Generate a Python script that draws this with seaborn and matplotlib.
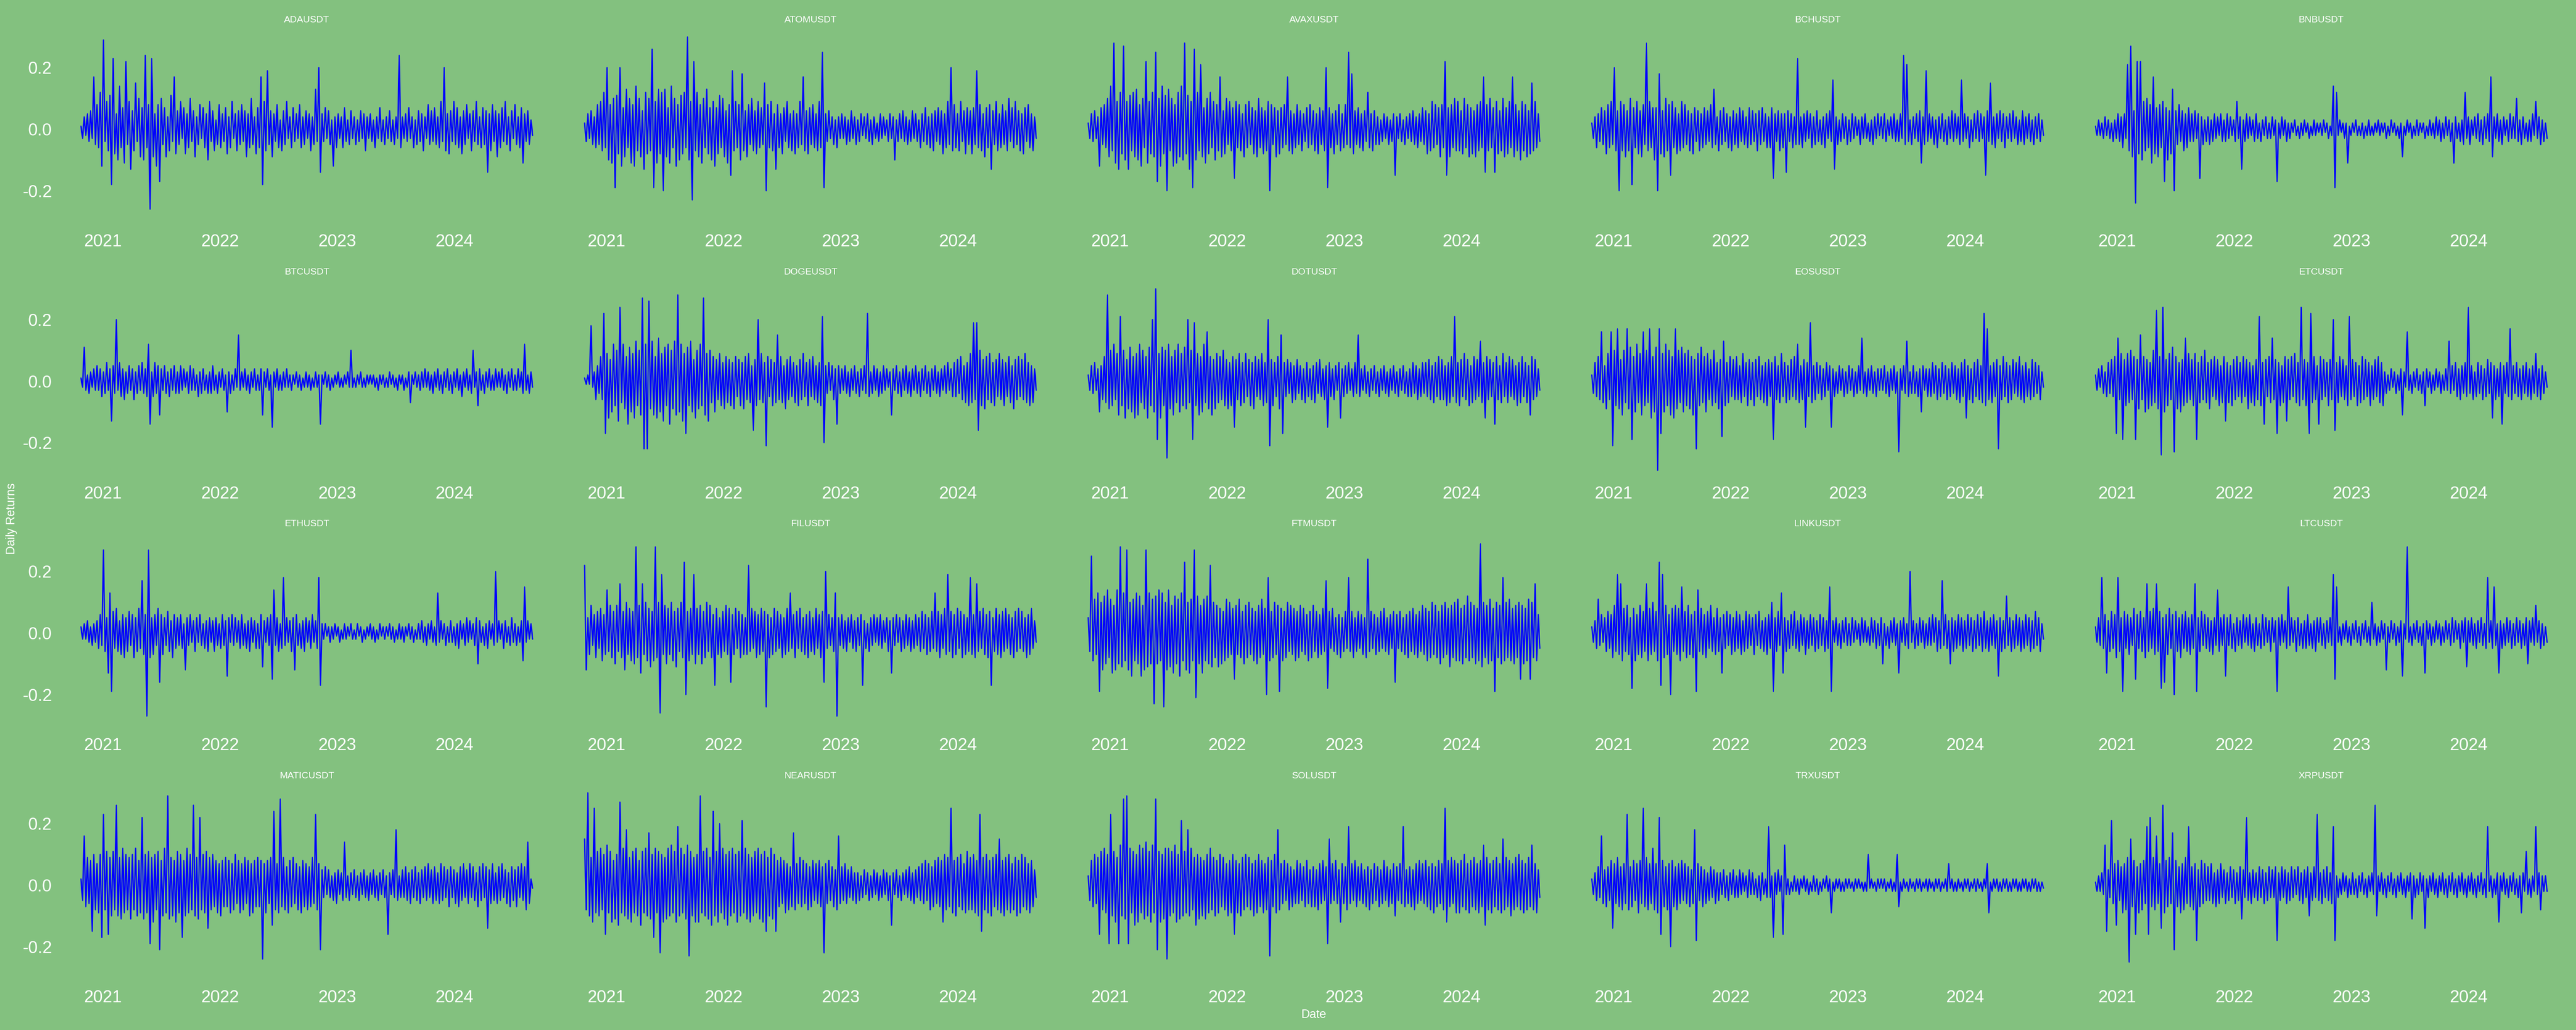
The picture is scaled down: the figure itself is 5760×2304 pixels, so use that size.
import numpy as np
import pandas as pd
import matplotlib
matplotlib.use("Agg")
import matplotlib.pyplot as plt
import matplotlib.dates as mdates
import seaborn as sns

# ---------------- data: daily returns (percent), read approx. every ~5 days ----------------
TICKERS = ["ADAUSDT", "ATOMUSDT", "AVAXUSDT", "BCHUSDT", "BNBUSDT",
           "BTCUSDT", "DOGEUSDT", "DOTUSDT", "EOSUSDT", "ETCUSDT",
           "ETHUSDT", "FILUSDT", "FTMUSDT", "LINKUSDT", "LTCUSDT",
           "MATICUSDT", "NEARUSDT", "SOLUSDT", "TRXUSDT", "XRPUSDT"]
START_DATE = "2020-10-25"
END_DATE = "2024-09-02"
Y_TICKS = [-0.2, 0.0, 0.2]
Y_TICK_LABELS = ["-0.2", "0.0", "0.2"]

ADAUSDT = [1, -3, 4, -2, 5, -4, 6, -3, 17, -5,
           8, -6, 12, -12, 29, -4, 9, -7, 11, -18,
           23, -8, 5, -10, 14, -6, 7, -11, 22, -5,
           9, -13, 6, -7, 15, -4, 10, -9, 7, -10,
           24, -6, 8, -26, 23, -9, 5, -12, 8, -17,
           10, -5, 7, -9, 4, -7, 11, -4, 17, -8,
           6, -5, 9, -3, 7, -8, 5, -6, 10, -4,
           6, -9, 4, -5, 8, -3, 7, -6, 5, -10,
           9, -4, 6, -7, 3, -5, 8, -6, 5, -4,
           7, -8, 4, -6, 9, -3, 5, -7, 6, -5,
           8, -4, 6, -9, 5, -6, 10, -5, 4, -8,
           7, -6, 17, -18, 9, -7, 19, -5, 6, -9,
           5, -4, 8, -6, 3, -7, 6, -5, 9, -3,
           4, -6, 7, -4, 5, -3, 8, -6, 4, -5,
           6, -3, 5, -7, 4, -5, 13, -4, 20, -14,
           5, -4, 7, -3, 6, -5, 3, -12, 4, -6,
           5, -3, 4, -6, 7, -4, 3, -5, 6, -3,
           4, -5, 3, -4, 6, -3, 5, -7, 4, -3,
           5, -4, 3, -6, 4, -3, 7, -4, 3, -5,
           4, -3, 6, -4, 3, -5, 4, -3, 24, -6,
           4, -3, 5, -4, 7, -3, 4, -6, 3, -5,
           6, -4, 5, -7, 4, -3, 8, -5, 6, -4,
           7, -5, 4, -6, 9, -4, 20, -7, 5, -8,
           6, -4, 9, -5, 7, -6, 4, -8, 6, -5,
           8, -3, 5, -7, 6, -4, 9, -5, 4, -6,
           7, -5, 6, -14, 5, -7, 8, -4, 6, -9,
           5, -6, 7, -4, 9, -5, 4, -7, 6, -3,
           8, -5, 4, -6, 7, -11, 5, -4, 6, -5,
           3, -2]
ATOMUSDT = [2, -4, 5, -3, 6, -5, 4, -6, 8, -5,
            9, -7, 12, -6, 20, -10, 8, -11, 10, -19,
            11, -8, 20, -12, 7, -9, 13, -6, 10, -11,
            8, -12, 14, -7, 10, -9, 6, -13, 12, -8,
            10, -7, 26, -19, 9, -11, 13, -8, 12, -20,
            13, -9, 7, -11, 14, -6, 10, -12, 8, -10,
            11, -8, 12, -6, 30, -10, 9, -23, 22, -7,
            12, -9, 8, -11, 10, -6, 13, -8, 7, -10,
            9, -12, 7, -8, 11, -6, 10, -9, 6, -11,
            8, -15, 19, -7, 9, -6, 8, -10, 18, -7,
            6, -9, 8, -5, 10, -7, 6, -8, 9, -6,
            7, -5, 15, -20, 8, -6, 9, -7, 5, -13,
            8, -6, 5, -8, 7, -4, 9, -6, 5, -7,
            6, -8, 5, -6, 9, -5, 17, -7, 6, -8,
            7, -5, 8, -6, 5, -7, 9, -6, 25, -19,
            5, -4, 6, -3, 4, -5, 3, -6, 4, -3,
            5, -3, 4, -5, 3, -4, 6, -3, 4, -5,
            3, -4, 5, -2, 4, -3, 5, -4, 3, -5,
            4, -3, 2, -4, 5, -3, 4, -2, 3, -4,
            5, -3, 4, -10, 3, -4, 5, -3, 6, -4,
            4, -5, 3, -4, 6, -3, 5, -4, 3, -6,
            5, -4, 7, -5, 4, -6, 5, -7, 6, -4,
            7, -5, 6, -8, 5, -6, 9, -5, 20, -7,
            8, -6, 5, -7, 9, -4, 6, -8, 7, -5,
            6, -8, 7, -5, 19, -6, 8, -7, 5, -9,
            7, -6, 8, -13, 6, -5, 9, -7, 5, -6,
            8, -5, 6, -7, 10, -4, 7, -6, 9, -5,
            6, -7, 5, -8, 7, -4, 8, -6, 5, -7,
            4, -3]
AVAXUSDT = [2, -3, 5, -4, 6, -3, 4, -12, 7, -5,
            8, -6, 10, -9, 14, -7, 28, -11, 9, -13,
            12, -8, 27, -10, 9, -13, 11, -7, 12, -9,
            13, -10, 8, -12, 10, -6, 22, -11, 9, -8,
            12, -9, 25, -17, 10, -12, 14, -8, 11, -20,
            13, -7, 10, -12, 8, -11, 12, -9, 14, -10,
            28, -8, 11, -13, 9, -19, 26, -10, 12, -7,
            21, -9, 7, -11, 10, -8, 12, -6, 9, -10,
            8, -7, 17, -9, 6, -8, 10, -5, 9, -7,
            7, -16, 9, -6, 8, -7, 5, -9, 8, -6,
            9, -5, 7, -8, 6, -9, 10, -6, 7, -8,
            6, -7, 9, -20, 8, -5, 7, -9, 6, -8,
            7, -6, 8, -5, 17, -7, 6, -8, 5, -6,
            8, -5, 6, -7, 5, -4, 7, -6, 8, -5,
            6, -7, 5, -8, 7, -5, 6, -7, 20, -19,
            7, -6, 5, -8, 6, -5, 8, -7, 5, -6,
            8, -5, 25, -6, 18, -8, 6, -5, 7, -6,
            5, -7, 6, -4, 12, -6, 5, -7, 6, -5,
            4, -5, 3, -4, 5, -3, 4, -5, 3, -4,
            5, -15, 4, -3, 5, -4, 3, -5, 4, -3,
            5, -4, 6, -5, 4, -6, 5, -4, 7, -5,
            6, -8, 5, -7, 9, -6, 8, -5, 7, -9,
            8, -6, 22, -15, 7, -9, 8, -6, 10, -7,
            9, -7, 6, -8, 10, -6, 8, -9, 7, -8,
            6, -9, 8, -7, 9, -6, 17, -14, 8, -7,
            10, -6, 7, -14, 9, -8, 6, -7, 10, -9,
            7, -8, 9, -6, 17, -9, 8, -7, 6, -10,
            9, -7, 8, -9, 6, -8, 15, -7, 9, -6,
            5, -4]
BCHUSDT = [2, -3, 4, -6, 5, -4, 7, -5, 6, -8,
           8, -6, 9, -5, 20, -7, 6, -20, 9, -7,
           8, -9, 6, -7, 10, -18, 7, -6, 9, -8,
           6, -9, 8, -5, 28, -7, 9, -6, 7, -10,
           7, -20, 18, -8, 6, -9, 10, -7, 8, -15,
           9, -6, 7, -8, 5, -7, 9, -6, 8, -5,
           6, -7, 5, -8, 7, -4, 6, -7, 5, -6,
           7, -5, 6, -4, 8, -6, 13, -5, 4, -7,
           6, -5, 7, -4, 5, -6, 4, -7, 6, -5,
           5, -6, 7, -4, 6, -5, 4, -6, 7, -5,
           6, -4, 5, -7, 6, -5, 7, -4, 5, -6,
           4, -6, 7, -16, 5, -4, 6, -7, 5, -6,
           5, -14, 6, -4, 5, -6, 4, -5, 23, -5,
           4, -6, 5, -4, 6, -3, 5, -6, 4, -5,
           6, -4, 3, -5, 4, -6, 5, -3, 6, -4,
           16, -13, 4, -5, 3, -4, 5, -3, 4, -5,
           3, -4, 5, -3, 4, -2, 3, -5, 4, -3,
           5, -3, 2, -4, 3, -5, 4, -3, 5, -2,
           4, -3, 5, -4, 3, -2, 4, -3, 5, -4,
           3, -4, 5, -3, 24, -5, 21, -4, 3, -5,
           4, -3, 5, -4, 6, -11, 4, -5, 19, -4,
           5, -3, 4, -5, 3, -6, 4, -3, 5, -4,
           3, -5, 4, -3, 6, -4, 5, -3, 4, -5,
           16, -4, 5, -3, 4, -6, 3, -4, 5, -3,
           6, -4, 5, -3, 4, -15, 6, -4, 15, -5,
           4, -6, 5, -3, 6, -4, 5, -6, 4, -3,
           5, -4, 6, -3, 4, -5, 3, -4, 6, -5,
           4, -3, 5, -4, 3, -5, 4, -3, 5, -4,
           3, -2]
BNBUSDT = [1, -2, 3, -2, 2, -3, 4, -2, 3, -3,
           2, -4, 3, -3, 5, -4, 4, -6, 5, -3,
           21, -7, 27, -9, 6, -24, 22, -8, 22, -10,
           9, -7, 10, -6, 8, -11, 17, -8, 7, -9,
           8, -6, 9, -17, 7, -10, 6, -8, 13, -20,
           6, -5, 8, -4, 6, -7, 5, -6, 7, -4,
           5, -4, 6, -3, 5, -16, 4, -5, 3, -4,
           4, -5, 3, -4, 5, -3, 4, -2, 5, -4,
           3, -4, 5, -3, 4, -2, 3, -4, 9, -3,
           4, -13, 3, -4, 5, -3, 4, -2, 3, -4,
           5, -3, 2, -4, 3, -2, 4, -3, 2, -3,
           4, -2, 3, -17, 2, -3, 4, -2, 3, -4,
           2, -3, 2, -1, 3, -2, 1, -3, 2, -2,
           3, -1, 2, -3, 1, -2, 3, -2, 2, -1,
           2, -2, 3, -1, 2, -3, 1, -2, 14, -19,
           12, -2, 3, -1, 2, -3, 2, -11, 1, -2,
           2, -1, 3, -2, 1, -2, 2, -3, 1, -2,
           3, -2, 1, -2, 2, -1, 3, -2, 2, -1,
           2, -3, 1, -2, 3, -1, 2, -2, 1, -3,
           2, -9, 1, -2, 3, -1, 2, -3, 1, -2,
           3, -2, 2, -1, 2, -3, 1, -2, 3, -2,
           2, -3, 4, -2, 3, -4, 2, -3, 4, -2,
           3, -4, 2, -11, 4, -3, 2, -4, 3, -5,
           12, -3, 4, -5, 3, -2, 4, -3, 5, -4,
           3, -5, 4, -3, 5, -4, 17, -9, 4, -3,
           5, -4, 3, -5, 4, -2, 3, -4, 5, -3,
           4, -3, 10, -4, 3, -5, 4, -3, 2, -4,
           3, -4, 5, -2, 9, -3, 4, -5, 3, -4,
           2, -3]
BTCUSDT = [1, -2, 11, -3, 2, -4, 3, -2, 4, -3,
           5, -3, 4, -5, 3, -4, 6, -3, 4, -13,
           5, -4, 20, -3, 6, -5, 4, -6, 3, -4,
           5, -3, 4, -6, 3, -4, 5, -3, 6, -4,
           4, -5, 12, -14, 3, -5, 6, -4, 5, -11,
           4, -3, 5, -4, 3, -5, 4, -3, 5, -4,
           3, -4, 5, -3, 4, -2, 3, -4, 5, -3,
           4, -3, 2, -5, 3, -4, 4, -3, 2, -4,
           3, -4, 5, -3, 2, -4, 3, -2, 4, -3,
           2, -10, 3, -4, 2, -3, 4, -2, 15, -3,
           3, -2, 4, -3, 2, -4, 3, -2, 4, -3,
           2, -3, 4, -11, 3, -2, 4, -3, 2, -15,
           3, -2, 4, -3, 2, -3, 3, -2, 4, -2,
           2, -3, 2, -1, 3, -2, 2, -3, 1, -2,
           3, -2, 2, -3, 1, -2, 3, -2, 2, -14,
           2, -1, 3, -2, 2, -3, 1, -2, 2, -1,
           3, -2, 1, -2, 2, -1, 3, -2, 10, -2,
           1, -2, 2, -1, 3, -2, 1, -2, 2, -1,
           2, -1, 2, -2, 1, -3, 2, -1, 2, -2,
           1, -2, 3, -1, 2, -2, 1, -3, 2, -1,
           2, -3, 1, -2, 3, -7, 2, -1, 3, -2,
           2, -3, 3, -2, 4, -2, 3, -3, 2, -4,
           3, -2, 4, -3, 2, -4, 3, -2, 4, -3,
           2, -4, 3, -2, 4, -3, 2, -5, 3, -2,
           4, -3, 2, -4, 10, -2, 3, -8, 4, -3,
           2, -4, 3, -2, 4, -3, 2, -3, 4, -2,
           3, -2, 4, -3, 2, -4, 3, -2, 4, -3,
           2, -3, 4, -2, 3, -4, 12, -3, 2, -4,
           3, -2]
DOGEUSDT = [1, -1, 2, -1, 18, -2, 3, -6, 5, -4,
            8, -6, 22, -17, 9, -12, 7, -10, 12, -8,
            10, -13, 24, -7, 12, -9, 8, -14, 11, -10,
            9, -12, 13, -8, 10, -11, 27, -22, 12, -22,
            26, -9, 13, -11, 8, -12, 14, -10, 9, -13,
            11, -8, 12, -14, 10, -9, 13, -11, 28, -10,
            12, -13, 9, -17, 11, -8, 13, -10, 7, -12,
            10, -9, 12, -8, 27, -11, 9, -13, 10, -7,
            8, -10, 7, -6, 9, -8, 6, -9, 8, -7,
            7, -8, 6, -9, 8, -5, 7, -8, 6, -9,
            8, -6, 9, -7, 5, -16, 7, -8, 20, -6,
            9, -7, 6, -21, 8, -5, 7, -8, 6, -7,
            15, -6, 8, -7, 5, -9, 7, -6, 8, -5,
            6, -7, 5, -8, 7, -6, 9, -5, 6, -8,
            7, -5, 8, -6, 5, -7, 6, -8, 21, -20,
            5, -4, 6, -3, 5, -6, 4, -14, 5, -4,
            4, -3, 5, -4, 3, -5, 4, -3, 5, -4,
            3, -5, 4, -3, 5, -4, 22, -5, 3, -4,
            5, -3, 4, -5, 3, -4, 5, -3, 4, -2,
            3, -11, 4, -3, 5, -4, 3, -5, 4, -3,
            5, -4, 3, -5, 4, -3, 5, -4, 3, -5,
            4, -3, 5, -4, 3, -5, 4, -3, 5, -4,
            3, -5, 4, -3, 5, -4, 6, -3, 4, -5,
            6, -5, 7, -4, 8, -6, 5, -7, 6, -8,
            9, -7, 19, -6, 19, -16, 10, -8, 7, -9,
            8, -6, 9, -7, 6, -8, 7, -5, 9, -6,
            7, -8, 6, -5, 8, -7, 5, -9, 7, -6,
            8, -5, 7, -6, 9, -7, 6, -8, 5, -7,
            4, -3]
DOTUSDT = [2, -3, 5, -4, 6, -3, 4, -10, 5, -6,
           8, -7, 28, -9, 10, -8, 12, -6, 9, -11,
           21, -8, 10, -12, 7, -9, 11, -10, 8, -12,
           9, -11, 12, -7, 10, -9, 8, -12, 11, -8,
           20, -10, 30, -19, 9, -12, 11, -8, 10, -25,
           12, -9, 8, -11, 10, -7, 12, -10, 9, -8,
           11, -9, 20, -7, 10, -19, 19, -8, 9, -11,
           8, -10, 12, -7, 16, -9, 8, -11, 7, -9,
           9, -7, 8, -6, 10, -8, 7, -9, 6, -8,
           8, -15, 7, -6, 9, -8, 6, -7, 9, -5,
           7, -8, 6, -9, 8, -5, 7, -6, 9, -8,
           6, -7, 20, -21, 7, -8, 6, -5, 8, -9,
           15, -17, 6, -5, 7, -4, 6, -7, 5, -6,
           7, -4, 5, -6, 4, -7, 6, -5, 4, -6,
           5, -7, 6, -4, 7, -5, 4, -6, 5, -15,
           6, -5, 4, -6, 5, -3, 6, -12, 4, -5,
           5, -4, 6, -3, 4, -5, 6, -4, 15, -5,
           4, -3, 5, -4, 3, -5, 4, -3, 5, -4,
           3, -5, 4, -3, 5, -4, 3, -5, 4, -3,
           5, -4, 3, -5, 4, -3, 5, -4, 3, -5,
           4, -5, 6, -4, 5, -6, 4, -5, 6, -4,
           6, -5, 7, -6, 5, -7, 6, -5, 8, -6,
           7, -6, 5, -8, 6, -7, 8, -5, 21, -7,
           6, -8, 7, -5, 9, -6, 7, -8, 5, -7,
           8, -6, 7, -5, 13, -7, 6, -12, 8, -6,
           7, -5, 6, -14, 8, -6, 5, -7, 9, -5,
           6, -7, 8, -5, 7, -6, 5, -8, 6, -7,
           8, -5, 6, -7, 5, -11, 8, -6, 7, -5,
           4, -3]
EOSUSDT = [2, -4, 6, -5, 8, -6, 16, -7, 5, -9,
           9, -6, 16, -21, 10, -8, 17, -9, 7, -11,
           10, -7, 17, -9, 11, -19, 8, -10, 12, -7,
           9, -11, 16, -8, 10, -7, 17, -12, 8, -10,
           11, -29, 17, -17, 9, -10, 12, -8, 10, -11,
           8, -12, 17, -9, 10, -7, 11, -10, 9, -8,
           10, -9, 8, -11, 7, -22, 9, -8, 11, -7,
           8, -10, 9, -6, 7, -8, 10, -7, 6, -9,
           7, -18, 13, -8, 6, -7, 8, -5, 7, -6,
           8, -6, 5, -7, 9, -5, 6, -8, 7, -6,
           6, -8, 7, -5, 8, -6, 5, -7, 6, -8,
           7, -5, 6, -19, 8, -6, 5, -7, 9, -5,
           6, -7, 5, -6, 7, -5, 8, -6, 12, -7,
           5, -6, 7, -15, 6, -5, 19, -7, 5, -6,
           6, -4, 5, -6, 4, -5, 6, -3, 5, -15,
           4, -5, 3, -4, 5, -3, 4, -5, 3, -4,
           5, -3, 4, -5, 3, -4, 5, -3, 14, -4,
           3, -5, 4, -3, 5, -4, 3, -5, 4, -3,
           4, -3, 5, -4, 3, -5, 4, -3, 5, -4,
           3, -23, 4, -3, 5, -4, 13, -5, 3, -4,
           5, -4, 3, -5, 4, -10, 5, -3, 4, -5,
           4, -5, 6, -4, 5, -6, 4, -5, 6, -4,
           5, -6, 4, -5, 6, -4, 5, -6, 4, -7,
           6, -5, 7, -12, 5, -6, 4, -7, 6, -5,
           7, -6, 5, -7, 22, -8, 17, -6, 5, -7,
           6, -5, 7, -22, 5, -6, 8, -5, 6, -7,
           5, -6, 7, -4, 6, -5, 8, -6, 5, -7,
           6, -5, 4, -6, 7, -5, 6, -4, 5, -6,
           3, -2]
ETCUSDT = [2, -3, 4, -2, 5, -4, 3, -5, 6, -4,
           7, -5, 8, -17, 14, -6, 9, -19, 7, -8,
           9, -7, 10, -6, 8, -19, 7, -9, 15, -6,
           8, -10, 7, -9, 6, -8, 10, -7, 23, -9,
           8, -24, 24, -10, 7, -8, 9, -6, 11, -23,
           8, -9, 6, -10, 7, -8, 14, -7, 9, -6,
           7, -8, 9, -19, 6, -7, 8, -6, 10, -7,
           6, -9, 7, -5, 8, -6, 7, -8, 5, -7,
           8, -13, 6, -7, 5, -8, 7, -6, 8, -5,
           6, -7, 8, -5, 7, -9, 6, -7, 5, -8,
           7, -6, 21, -8, 6, -14, 7, -5, 8, -7,
           14, -6, 7, -17, 6, -8, 5, -7, 8, -13,
           7, -6, 8, -5, 9, -7, 6, -8, 24, -6,
           7, -8, 6, -17, 22, -7, 8, -6, 5, -14,
           8, -6, 7, -5, 6, -8, 7, -6, 20, -16,
           6, -7, 8, -5, 7, -6, 5, -8, 21, -6,
           7, -5, 6, -8, 5, -7, 8, -6, 7, -5,
           6, -8, 5, -6, 7, -5, 8, -7, 6, -8,
           3, -4, 2, -3, 4, -2, 3, -4, 2, -3,
           4, -11, 3, -2, 16, -3, 2, -4, 3, -2,
           4, -3, 2, -4, 3, -8, 4, -2, 3, -4,
           2, -3, 4, -2, 3, -4, 2, -3, 4, -3,
           13, -4, 5, -3, 6, -5, 4, -6, 5, -4,
           6, -5, 24, -4, 5, -6, 3, -5, 6, -4,
           5, -6, 4, -5, 7, -4, 6, -12, 5, -6,
           4, -5, 6, -14, 5, -4, 6, -5, 17, -6,
           5, -4, 6, -5, 4, -6, 5, -4, 6, -5,
           4, -6, 5, -4, 9, -5, 4, -6, 5, -4,
           3, -2]
ETHUSDT = [2, -2, 3, -2, 4, -3, 2, -4, 3, -3,
           4, -5, 6, -4, 27, -6, 5, -13, 13, -19,
           7, -5, 8, -6, 4, -7, 6, -8, 5, -6,
           7, -4, 6, -8, 5, -6, 8, -5, 17, -7,
           6, -27, 27, -8, 5, -7, 6, -4, 8, -16,
           6, -7, 5, -4, 7, -6, 4, -8, 6, -5,
           5, -4, 6, -5, 3, -12, 5, -4, 6, -3,
           4, -6, 5, -3, 6, -4, 3, -5, 4, -6,
           5, -3, 4, -6, 5, -4, 3, -5, 6, -4,
           4, -14, 5, -3, 6, -4, 5, -3, 4, -5,
           6, -4, 3, -5, 4, -6, 5, -3, 4, -5,
           3, -5, 6, -11, 4, -3, 5, -4, 6, -15,
           14, -4, 5, -6, 3, -5, 18, -4, 5, -3,
           4, -6, 5, -12, 6, -4, 3, -5, 4, -6,
           5, -3, 4, -5, 6, -3, 4, -5, 18, -17,
           3, -2, 3, -1, 2, -3, 2, -2, 3, -1,
           2, -3, 1, -2, 3, -2, 2, -1, 3, -2,
           1, -2, 3, -1, 2, -3, 1, -2, 2, -1,
           3, -2, 2, -3, 1, -2, 3, -1, 2, -2,
           2, -1, 3, -2, 2, -3, 1, -2, 3, -2,
           2, -3, 2, -1, 3, -2, 2, -3, 1, -2,
           3, -2, 4, -3, 2, -4, 3, -2, 4, -3,
           2, -4, 13, -3, 4, -2, 3, -4, 2, -3,
           4, -3, 2, -4, 3, -5, 4, -2, 3, -4,
           5, -3, 4, -2, 3, -4, 5, -10, 4, -3,
           2, -4, 3, -5, 4, -2, 3, -4, 20, -3,
           4, -2, 3, -5, 4, -3, 2, -4, 5, -3,
           3, -4, 2, -3, 4, -9, 15, -3, 4, -2,
           3, -2]
FILUSDT = [22, -12, 5, -7, 9, -4, 6, -8, 7, -5,
           8, -9, 6, -7, 14, -6, 9, -8, 7, -10,
           9, -6, 16, -8, 7, -12, 10, -7, 8, -9,
           7, -10, 28, -8, 9, -13, 16, -7, 10, -9,
           8, -11, 7, -9, 28, -8, 10, -26, 19, -7,
           9, -10, 8, -7, 10, -9, 7, -11, 8, -6,
           10, -8, 23, -20, 7, -9, 8, -7, 19, -10,
           8, -7, 9, -10, 7, -8, 10, -6, 9, -8,
           6, -17, 8, -7, 5, -8, 7, -6, 9, -7,
           8, -16, 6, -7, 8, -5, 7, -8, 6, -7,
           5, -7, 22, -6, 8, -5, 7, -8, 6, -7,
           8, -6, 7, -24, 6, -8, 5, -7, 8, -6,
           7, -5, 6, -8, 5, -7, 8, -6, 13, -5,
           6, -8, 7, -5, 8, -6, 5, -7, 6, -8,
           7, -6, 5, -7, 8, -5, 6, -8, 7, -16,
           20, -5, 6, -4, 5, -6, 13, -27, 5, -4,
           6, -5, 4, -6, 5, -3, 6, -5, 4, -6,
           5, -4, 6, -17, 4, -5, 3, -6, 5, -4,
           6, -3, 5, -4, 6, -5, 4, -3, 5, -6,
           4, -13, 5, -4, 6, -3, 5, -6, 4, -5,
           6, -4, 5, -6, 4, -5, 6, -4, 5, -6,
           7, -5, 6, -7, 5, -6, 7, -5, 13, -6,
           7, -8, 6, -5, 8, -7, 19, -6, 7, -8,
           6, -7, 8, -5, 7, -8, 6, -7, 5, -6,
           18, -7, 6, -8, 16, -6, 7, -5, 8, -7,
           6, -8, 7, -17, 5, -6, 8, -7, 6, -8,
           7, -6, 8, -5, 6, -7, 5, -8, 7, -6,
           8, -5, 7, -6, 5, -8, 6, -7, 8, -5,
           4, -3]
FTMUSDT = [5, -6, 25, -9, 11, -7, 13, -19, 10, -12,
           12, -10, 14, -8, 11, -13, 9, -12, 14, -10,
           28, -11, 13, -9, 27, -12, 10, -14, 11, -9,
           13, -10, 12, -14, 9, -12, 27, -11, 13, -10,
           11, -23, 12, -10, 14, -9, 13, -24, 10, -12,
           14, -11, 9, -13, 12, -10, 11, -14, 13, -9,
           23, -12, 10, -13, 11, -9, 27, -21, 12, -10,
           9, -13, 11, -9, 12, -10, 22, -11, 10, -8,
           9, -11, 8, -10, 7, -9, 11, -8, 10, -7,
           8, -15, 9, -7, 11, -8, 7, -10, 9, -8,
           10, -7, 8, -9, 7, -10, 9, -8, 11, -7,
           8, -20, 18, -9, 7, -8, 10, -7, 9, -19,
           8, -9, 7, -8, 10, -6, 9, -7, 8, -9,
           7, -8, 9, -6, 8, -7, 6, -9, 7, -8,
           9, -6, 7, -8, 6, -7, 8, -6, 17, -18,
           7, -5, 8, -6, 5, -7, 6, -8, 5, -6,
           7, -5, 18, -6, 7, -8, 5, -6, 7, -5,
           6, -7, 5, -8, 24, -6, 7, -5, 6, -7,
           5, -6, 7, -5, 8, -6, 5, -7, 6, -5,
           7, -16, 6, -5, 7, -6, 5, -7, 6, -8,
           7, -6, 8, -7, 6, -8, 7, -6, 9, -7,
           8, -9, 7, -8, 10, -7, 9, -8, 7, -10,
           9, -8, 10, -7, 8, -11, 9, -8, 10, -9,
           11, -9, 8, -10, 9, -8, 12, -9, 10, -8,
           9, -10, 8, -9, 29, -11, 10, -8, 9, -10,
           11, -9, 8, -19, 10, -8, 9, -10, 18, -9,
           10, -8, 11, -9, 8, -10, 9, -8, 10, -15,
           9, -10, 8, -9, 11, -15, 10, -8, 16, -9,
           6, -5]
LINKUSDT = [2, -3, 4, -5, 11, -4, 6, -3, 5, -6,
            7, -5, 6, -8, 9, -6, 19, -7, 16, -9,
            8, -6, 9, -7, 5, -18, 8, -9, 6, -7,
            9, -8, 7, -6, 16, -9, 8, -7, 10, -6,
            7, -9, 23, -17, 19, -8, 9, -7, 6, -20,
            8, -6, 9, -7, 8, -9, 15, -6, 7, -8,
            9, -7, 6, -8, 7, -19, 14, -6, 8, -7,
            6, -8, 7, -5, 9, -6, 5, -7, 8, -6,
            5, -13, 6, -5, 7, -4, 6, -7, 5, -6,
            7, -5, 6, -7, 4, -6, 7, -5, 6, -4,
            5, -7, 6, -4, 7, -5, 4, -6, 5, -7,
            6, -5, 10, -19, 5, -6, 7, -4, 13, -13,
            5, -6, 4, -5, 6, -4, 7, -5, 4, -6,
            6, -4, 5, -7, 4, -5, 6, -4, 5, -6,
            4, -5, 6, -4, 5, -6, 4, -5, 15, -19,
            4, -3, 5, -4, 3, -5, 4, -3, 5, -4,
            3, -4, 5, -3, 4, -2, 3, -4, 5, -3,
            4, -3, 2, -4, 5, -3, 4, -5, 3, -4,
            5, -10, 3, -4, 2, -5, 4, -3, 5, -4,
            3, -13, 4, -3, 5, -4, 3, -5, 20, -3,
            4, -5, 3, -4, 5, -3, 4, -5, 3, -4,
            5, -4, 6, -3, 5, -6, 4, -5, 17, -4,
            6, -5, 4, -10, 5, -6, 4, -5, 6, -4,
            5, -6, 4, -5, 6, -4, 5, -6, 4, -5,
            6, -4, 5, -6, 7, -5, 4, -6, 5, -4,
            6, -5, 4, -14, 5, -6, 4, -5, 12, -4,
            5, -6, 4, -5, 6, -4, 5, -6, 4, -5,
            6, -4, 5, -6, 4, -5, 7, -4, 5, -6,
            3, -2]
LTCUSDT = [2, -3, 5, -4, 18, -5, 6, -13, 4, -6,
           7, -5, 6, -8, 18, -6, 5, -19, 7, -5,
           6, -7, 5, -4, 8, -15, 6, -5, 7, -6,
           5, -8, 16, -6, 7, -5, 8, -7, 16, -6,
           7, -18, 5, -16, 6, -7, 8, -5, 6, -20,
           7, -6, 5, -8, 6, -5, 7, -6, 5, -7,
           6, -5, 16, -19, 5, -6, 7, -4, 6, -5,
           5, -6, 4, -7, 5, -4, 14, -6, 5, -4,
           6, -14, 5, -4, 6, -5, 3, -6, 5, -4,
           4, -5, 6, -3, 5, -4, 6, -5, 3, -6,
           5, -4, 3, -5, 6, -4, 5, -3, 4, -6,
           5, -3, 4, -19, 5, -4, 6, -3, 4, -5,
           15, -4, 5, -3, 4, -6, 5, -4, 3, -5,
           4, -5, 6, -4, 3, -5, 4, -6, 5, -3,
           5, -4, 3, -5, 4, -3, 5, -4, 19, -15,
           15, -3, 2, -4, 3, -2, 4, -3, 2, -4,
           3, -2, 4, -3, 2, -4, 3, -2, 4, -3,
           2, -4, 10, -2, 3, -4, 2, -3, 4, -2,
           3, -12, 2, -3, 4, -2, 3, -4, 2, -3,
           4, -14, 3, -2, 28, -3, 2, -4, 3, -2,
           4, -3, 2, -4, 3, -13, 4, -2, 3, -4,
           2, -3, 4, -2, 3, -4, 2, -3, 4, -2,
           3, -4, 5, -3, 4, -2, 3, -5, 4, -3,
           5, -11, 4, -3, 5, -4, 3, -5, 4, -3,
           5, -4, 3, -5, 18, -3, 4, -5, 15, -4,
           3, -13, 4, -5, 3, -4, 5, -3, 4, -5,
           3, -4, 5, -3, 4, -5, 3, -4, 5, -10,
           4, -3, 5, -4, 9, -3, 4, -5, 3, -4,
           2, -3]
MATICUSDT = [2, -5, 16, -7, 9, -6, 8, -15, 10, -8,
             7, -9, 10, -17, 23, -8, 11, -16, 9, -10,
             11, -8, 26, -10, 9, -11, 12, -9, 10, -8,
             9, -11, 10, -8, 12, -10, 8, -9, 22, -11,
             10, -9, 11, -19, 9, -12, 10, -8, 11, -21,
             8, -10, 12, -9, 29, -11, 9, -10, 8, -12,
             11, -9, 10, -17, 8, -10, 12, -9, 10, -8,
             26, -10, 9, -11, 22, -8, 10, -9, 11, -14,
             9, -8, 10, -7, 8, -9, 7, -10, 8, -7,
             9, -7, 8, -9, 7, -8, 10, -6, 8, -9,
             7, -8, 9, -6, 8, -10, 7, -9, 8, -7,
             9, -7, 8, -24, 7, -9, 8, -6, 9, -13,
             24, -8, 7, -9, 28, -7, 9, -8, 6, -9,
             8, -7, 9, -6, 7, -8, 6, -9, 8, -7,
             7, -8, 6, -7, 9, -6, 23, -8, 7, -21,
             5, -4, 6, -3, 5, -4, 3, -5, 4, -6,
             5, -3, 4, -5, 14, -4, 3, -5, 4, -3,
             5, -4, 3, -5, 4, -3, 5, -4, 3, -5,
             4, -3, 5, -4, 3, -5, 4, -3, 5, -4,
             3, -16, 4, -3, 5, -4, 18, -5, 3, -4,
             5, -4, 6, -5, 4, -6, 5, -4, 6, -5,
             4, -6, 5, -4, 6, -5, 7, -4, 5, -6,
             6, -5, 4, -6, 7, -5, 6, -4, 5, -7,
             6, -4, 5, -6, 4, -7, 6, -5, 7, -4,
             5, -6, 7, -4, 6, -5, 4, -7, 6, -5,
             7, -4, 6, -14, 5, -6, 7, -5, 4, -6,
             6, -5, 7, -4, 5, -6, 4, -7, 6, -5,
             5, -7, 6, -4, 7, -5, 6, -8, 14, -6,
             2, -1]
NEARUSDT = [15, -8, 30, -10, 9, -12, 25, -9, 11, -10,
            12, -8, 10, -16, 13, -9, 11, -12, 8, -11,
            10, -13, 27, -9, 12, -10, 18, -11, 9, -12,
            11, -9, 12, -10, 8, -13, 11, -9, 12, -10,
            17, -11, 10, -17, 12, -9, 11, -22, 10, -12,
            9, -11, 12, -10, 13, -9, 11, -12, 19, -10,
            12, -9, 10, -11, 13, -23, 11, -10, 9, -12,
            10, -12, 29, -9, 11, -10, 12, -11, 9, -13,
            24, -10, 11, -12, 20, -9, 12, -11, 10, -13,
            11, -10, 12, -9, 10, -12, 11, -10, 21, -9,
            12, -11, 10, -12, 9, -10, 11, -9, 12, -11,
            10, -12, 11, -15, 9, -10, 12, -11, 10, -15,
            8, -7, 9, -6, 8, -9, 7, -8, 6, -7,
            17, -8, 7, -6, 9, -7, 8, -6, 7, -8,
            6, -7, 8, -5, 7, -6, 8, -7, 6, -22,
            7, -6, 8, -5, 6, -7, 5, -8, 16, -6,
            6, -5, 7, -6, 5, -4, 6, -5, 4, -6,
            4, -5, 3, -4, 5, -3, 4, -5, 3, -4,
            5, -3, 4, -5, 3, -4, 5, -3, 4, -5,
            3, -13, 4, -3, 5, -4, 3, -5, 4, -3,
            5, -4, 6, -5, 4, -6, 5, -4, 6, -5,
            7, -6, 8, -5, 7, -8, 6, -7, 8, -6,
            9, -7, 8, -12, 10, -8, 9, -7, 25, -9,
            8, -10, 9, -7, 10, -8, 7, -9, 11, -8,
            9, -8, 10, -9, 8, -10, 23, -15, 9, -8,
            10, -9, 8, -10, 9, -7, 10, -8, 15, -9,
            8, -10, 9, -8, 10, -9, 7, -8, 9, -10,
            8, -9, 10, -7, 9, -8, 7, -9, 8, -7,
            5, -4]
SOLUSDT = [3, -5, 8, -7, 10, -6, 9, -16, 11, -8,
           12, -9, 10, -19, 23, -10, 11, -12, 9, -19,
           13, -10, 28, -11, 29, -19, 12, -9, 11, -13,
           10, -12, 13, -9, 12, -11, 14, -10, 11, -12,
           13, -9, 28, -21, 11, -12, 10, -11, 12, -24,
           12, -10, 11, -9, 13, -12, 10, -11, 21, -10,
           11, -9, 18, -10, 12, -8, 9, -13, 10, -11,
           9, -10, 8, -11, 10, -9, 12, -8, 9, -10,
           8, -9, 10, -7, 9, -8, 7, -10, 8, -9,
           10, -16, 8, -9, 7, -10, 9, -8, 10, -7,
           9, -8, 7, -10, 8, -9, 10, -7, 8, -9,
           7, -8, 9, -23, 8, -7, 10, -9, 18, -8,
           7, -6, 8, -5, 7, -8, 6, -7, 5, -6,
           8, -6, 7, -5, 6, -7, 8, -6, 5, -7,
           6, -7, 5, -8, 7, -6, 8, -5, 6, -19,
           15, -6, 7, -5, 8, -6, 5, -12, 7, -6,
           6, -8, 19, -6, 7, -5, 8, -7, 6, -5,
           7, -6, 5, -7, 6, -8, 5, -6, 7, -5,
           6, -7, 5, -6, 8, -5, 6, -7, 5, -6,
           7, -10, 6, -5, 7, -6, 19, -7, 5, -6,
           6, -7, 5, -8, 7, -6, 8, -5, 7, -6,
           8, -7, 6, -8, 7, -9, 6, -7, 8, -6,
           7, -8, 25, -12, 8, -7, 9, -6, 8, -9,
           7, -9, 8, -7, 10, -8, 7, -9, 8, -7,
           9, -8, 7, -9, 8, -7, 13, -13, 9, -8,
           7, -9, 8, -7, 9, -8, 7, -9, 15, -8,
           9, -7, 8, -10, 7, -8, 9, -7, 10, -8,
           8, -9, 7, -8, 9, -7, 13, -8, 7, -9,
           5, -4]
TRXUSDT = [2, -3, 4, -5, 6, -4, 16, -6, 5, -7,
           6, -5, 8, -14, 7, -6, 9, -7, 6, -8,
           7, -6, 23, -8, 6, -7, 8, -5, 7, -9,
           8, -6, 25, -7, 9, -8, 7, -6, 12, -8,
           7, -9, 22, -16, 8, -7, 6, -8, 7, -20,
           8, -7, 6, -8, 7, -6, 8, -5, 7, -6,
           6, -7, 5, -6, 18, -18, 7, -5, 6, -7,
           5, -6, 4, -5, 6, -4, 5, -6, 4, -5,
           4, -3, 5, -4, 3, -5, 4, -3, 5, -4,
           3, -4, 5, -3, 4, -2, 3, -4, 5, -3,
           4, -3, 2, -4, 3, -5, 4, -3, 2, -4,
           19, -4, 3, -17, 4, -3, 5, -2, 3, -16,
           13, -3, 2, -3, 1, -2, 3, -2, 2, -3,
           2, -1, 3, -2, 2, -3, 1, -2, 3, -2,
           2, -3, 1, -2, 2, -1, 3, -2, 2, -9,
           1, -2, 2, -1, 2, -2, 1, -2, 2, -1,
           2, -1, 1, -2, 2, -1, 2, -1, 1, -2,
           1, -2, 10, -1, 2, -1, 1, -2, 2, -1,
           2, -1, 2, -2, 1, -1, 2, -2, 1, -2,
           10, -7, 1, -2, 2, -1, 1, -2, 2, -1,
           1, -2, 2, -1, 2, -2, 1, -1, 2, -2,
           2, -1, 1, -2, 2, -1, 2, -2, 1, -1,
           2, -2, 7, -1, 2, -2, 1, -2, 2, -1,
           1, -2, 2, -1, 2, -2, 1, -1, 2, -2,
           2, -1, 1, -2, 2, -1, 7, -9, 1, -2,
           2, -1, 2, -2, 1, -2, 2, -1, 2, -2,
           1, -2, 2, -1, 2, -2, 1, -2, 2, -1,
           2, -2, 1, -2, 2, -1, 2, -2, 1, -2,
           1, -1]
XRPUSDT = [1, -2, 3, -2, 4, -3, 13, -15, 5, -4,
           21, -6, 7, -13, 8, -5, 6, -9, 7, -8,
           9, -25, 15, -7, 8, -16, 6, -9, 7, -8,
           8, -6, 19, -16, 22, -7, 9, -8, 16, -6,
           7, -14, 26, -9, 8, -7, 9, -6, 17, -21,
           8, -7, 6, -9, 7, -8, 9, -6, 19, -7,
           6, -8, 7, -18, 5, -7, 8, -6, 7, -5,
           6, -5, 7, -6, 4, -7, 5, -6, 7, -4,
           5, -6, 4, -5, 6, -4, 5, -6, 4, -5,
           6, -11, 5, -4, 22, -5, 4, -6, 5, -4,
           4, -5, 6, -4, 5, -6, 4, -5, 6, -4,
           5, -4, 6, -18, 4, -5, 6, -4, 5, -6,
           4, -5, 6, -4, 5, -3, 6, -5, 4, -6,
           5, -4, 6, -10, 4, -5, 6, -4, 23, -5,
           4, -6, 5, -4, 6, -5, 4, -6, 19, -18,
           3, -4, 2, -3, 4, -2, 3, -4, 2, -3,
           4, -3, 2, -4, 3, -2, 4, -3, 2, -4,
           3, -2, 4, -3, 26, -10, 3, -2, 4, -3,
           2, -4, 3, -2, 4, -3, 2, -4, 3, -2,
           4, -3, 2, -4, 3, -2, 4, -11, 3, -4,
           2, -3, 4, -2, 3, -14, 2, -4, 3, -2,
           4, -3, 2, -4, 3, -2, 4, -3, 2, -4,
           3, -2, 4, -3, 2, -4, 3, -2, 4, -3,
           2, -4, 3, -2, 4, -3, 2, -4, 3, -2,
           4, -3, 2, -4, 19, -2, 3, -4, 2, -3,
           4, -12, 3, -2, 4, -3, 2, -4, 3, -2,
           4, -3, 2, -4, 3, -9, 4, -2, 11, -3,
           2, -4, 3, -2, 19, -3, 4, -8, 3, -2,
           3, -2]

RETURNS = {
    "ADAUSDT": ADAUSDT, "ATOMUSDT": ATOMUSDT, "AVAXUSDT": AVAXUSDT,
    "BCHUSDT": BCHUSDT, "BNBUSDT": BNBUSDT, "BTCUSDT": BTCUSDT,
    "DOGEUSDT": DOGEUSDT, "DOTUSDT": DOTUSDT, "EOSUSDT": EOSUSDT,
    "ETCUSDT": ETCUSDT, "ETHUSDT": ETHUSDT, "FILUSDT": FILUSDT,
    "FTMUSDT": FTMUSDT, "LINKUSDT": LINKUSDT, "LTCUSDT": LTCUSDT,
    "MATICUSDT": MATICUSDT, "NEARUSDT": NEARUSDT, "SOLUSDT": SOLUSDT,
    "TRXUSDT": TRXUSDT, "XRPUSDT": XRPUSDT,
}

# ---------------- style ----------------
BG = "#83C17F"
sns.set_style("white", rc={"axes.facecolor": BG, "figure.facecolor": BG})
plt.rcParams["font.family"] = ["Liberation Sans", "DejaVu Sans"]
plt.rcParams["axes.unicode_minus"] = False

W, H, DPI = 5760, 2304, 240
fig = plt.figure(figsize=(W / DPI, H / DPI), dpi=DPI)
fig.patch.set_facecolor(BG)

# layout in pixels
COL_LEFT = [130.5 + 1126.1 * c for c in range(5)]
AX_W = 1111
ZERO_Y = [289, 852.5, 1416, 1980]
PX_PER_UNIT = 688
YLIM = (-0.32, 0.33)
AX_H = (YLIM[1] - YLIM[0]) * PX_PER_UNIT

for i, t in enumerate(TICKERS):
    r, c = divmod(i, 5)
    top = ZERO_Y[r] - YLIM[1] * PX_PER_UNIT
    ax = fig.add_axes([COL_LEFT[c] / W, 1 - (top + AX_H) / H, AX_W / W, AX_H / H])
    ax.set_facecolor(BG)
    vals = np.array(RETURNS[t], dtype=float) / 100.0
    dates = pd.date_range(START_DATE, END_DATE, periods=len(vals))
    df = pd.DataFrame({"Date": dates, "Daily Returns": vals})
    sns.lineplot(data=df, x="Date", y="Daily Returns", ax=ax, color="blue",
                 linewidth=0.85)
    ax.margins(x=0.05)
    ax.set_ylim(YLIM)
    ax.set_xlabel("")
    ax.set_ylabel("")
    ax.xaxis.set_major_locator(mdates.YearLocator())
    ax.xaxis.set_major_formatter(mdates.DateFormatter("%Y"))
    ax.set_yticks(Y_TICKS)
    ax.set_yticklabels(Y_TICK_LABELS)
    ax.tick_params(axis="both", length=0, labelsize=11.5, colors="white", pad=4.3)
    if c != 0:
        ax.tick_params(axis="y", labelleft=False)
    for s in ax.spines.values():
        s.set_visible(False)
    ax.grid(False)
    ax.set_title(t, color="white", fontsize=6.4, pad=3.5)

fig.text(2938 / W, 1 - 2270 / H, "Date", ha="center", va="center",
         color="white", fontsize=8)
fig.text(26 / W, 1 - 1160 / H, "Daily Returns", ha="center", va="center",
         rotation=90, color="white", fontsize=8)

fig.savefig("out.png", dpi=DPI, facecolor=BG)
